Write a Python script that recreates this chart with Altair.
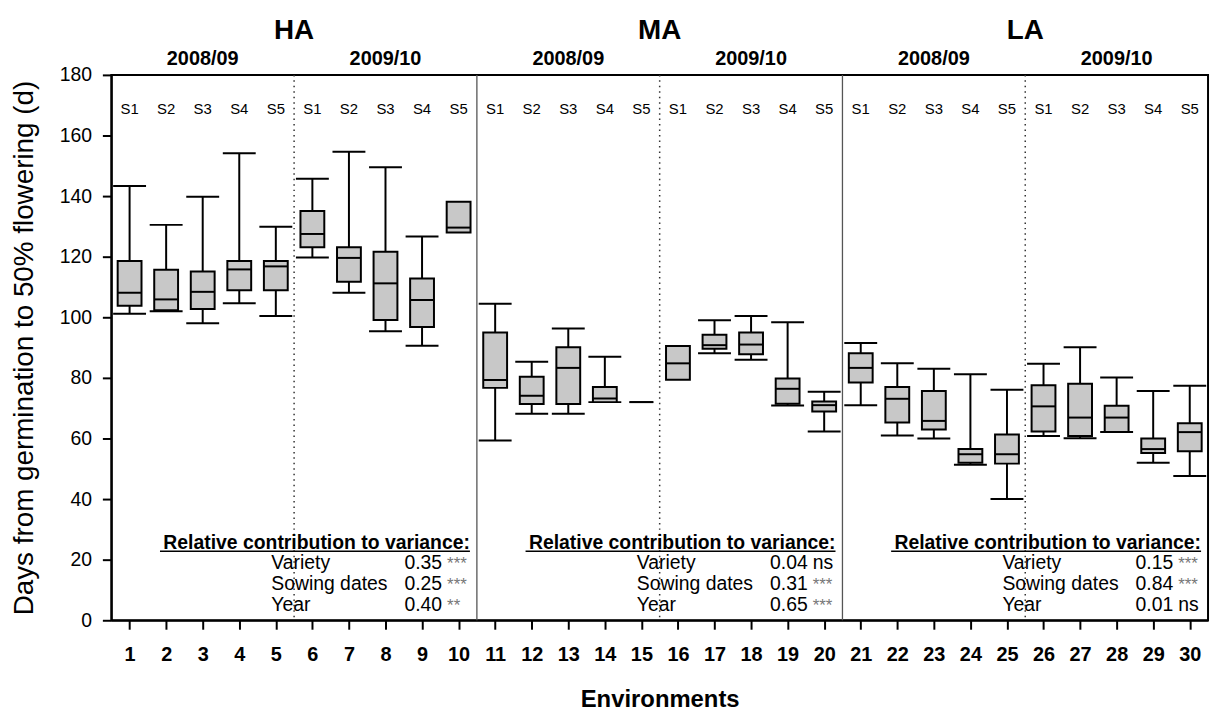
import altair as alt
import pandas as pd

FONT = "Liberation Sans"

# ---------------- data ----------------
envs = list(range(1, 31))
whisker_lo = [101.2, 102.0, 98.0, 104.6, 100.4, 119.7, 108.1, 95.4, 90.6, None,
              59.3, 68.2, 68.2, 72.0, None, None, 88.1, 86.0, 70.9, 62.3,
              71.0, 61.0, 60.0, 51.3, 40.0, 60.8, 60.1, 62.1, 52.0, 47.6]
q1 = [103.8, 102.3, 102.7, 108.9, 108.9, 123.1, 111.7, 99.1, 96.8, 128.0,
      76.7, 71.4, 71.4, 72.0, 72.0, 79.4, 89.6, 87.8, 71.5, 68.9,
      78.5, 65.3, 63.0, 52.0, 51.7, 62.3, 60.8, 62.1, 55.2, 55.8]
median = [108.1, 105.9, 108.4, 115.8, 116.8, 127.5, 119.6, 111.2, 105.7, 129.6,
          79.3, 74.1, 83.3, 73.2, 72.0, 84.8, 90.8, 91.0, 76.4, 71.0,
          83.3, 73.1, 65.8, 54.8, 54.8, 70.6, 66.9, 66.9, 56.5, 62.1]
q3 = [118.6, 115.7, 115.1, 118.6, 118.6, 135.1, 123.1, 121.6, 112.8, 138.1,
      95.0, 80.4, 90.1, 77.0, 72.0, 90.5, 94.2, 95.0, 79.8, 72.2,
      88.1, 77.0, 75.7, 56.5, 61.3, 77.6, 78.1, 70.8, 60.0, 65.0]
whisker_hi = [143.3, 130.5, 139.8, 154.1, 129.9, 145.7, 154.6, 149.5, 126.7, None,
              104.5, 85.3, 96.3, 87.0, None, None, 99.0, 100.4, 98.4, 75.4,
              91.5, 84.8, 83.0, 81.2, 76.1, 84.7, 90.1, 80.1, 75.7, 77.4]

sowing_labels = ["S1", "S2", "S3", "S4", "S5"]
regions = ["HA", "MA", "LA"]
seasons = ["2008/09", "2009/10"]
factors = ["Variety", "Sowing dates", "Year"]
contrib = {"HA": [0.35, 0.25, 0.40], "MA": [0.04, 0.31, 0.65], "LA": [0.15, 0.84, 0.01]}
signif = {"HA": ["***", "***", "**"], "MA": ["ns", "***", "***"], "LA": ["***", "***", "ns"]}
heading = "Relative contribution to variance:"

# layout (in axis units)
panel_lo = [0.5, 10.5, 20.5]
panel_hi = [10.5, 20.5, 30.5]
season_split = [5.5, 15.5, 25.5]
heading_y = 23.6
row_y = [17.05, 9.84, 3.1]

# ---------------- tables ----------------
box_df = pd.DataFrame({"env": envs, "lo": whisker_lo, "q1": q1, "med": median,
                       "q3": q3, "hi": whisker_hi})
s_df = pd.DataFrame({"env": envs, "lab": sowing_labels * 6})
region_df = pd.DataFrame({"region": regions,
                          "xc": [(a + b) / 2 for a, b in zip(panel_lo, panel_hi)]})
season_df = pd.DataFrame({"season": seasons * 3,
                          "xc": [(a + b) / 2 for a, b in zip(
                              [p for p in panel_lo for _ in range(2)][::1],
                              [0] * 6)]})
# centres of each half-panel
half_centres = []
for lo_, hi_ in zip(panel_lo, panel_hi):
    mid = (lo_ + hi_) / 2
    half_centres += [(lo_ + mid) / 2, (mid + hi_) / 2]
season_df["xc"] = half_centres
sep_df = pd.DataFrame({"x": panel_hi[:-1]})
dot_df = pd.DataFrame({"x": season_split})
head_df = pd.DataFrame({"plo": panel_lo, "phi": panel_hi, "txt": [heading] * 3,
                        "y": [heading_y] * 3})
rows = []
for r, plo, phi in zip(regions, panel_lo, panel_hi):
    for i, f in enumerate(factors):
        rows.append({"plo": plo, "phi": phi, "factor": f, "val": contrib[r][i],
                     "sig": signif[r][i], "y": row_y[i],
                     "star": signif[r][i] != "ns"})
row_df = pd.DataFrame(rows)

# ---------------- scales / axes ----------------
TITLE_X = "Environments"
TITLE_Y = "Days from germination to 50% flowering (d)"
xscale = alt.Scale(domain=[0.5, 30.5], nice=False, zero=False)
yscale = alt.Scale(domain=[0, 180], nice=False, zero=True)
xaxis = alt.Axis(values=envs, format="d", grid=False, labelFont=FONT,
                 labelFontSize=20, labelFontWeight="bold", labelColor="black",
                 labelBaseline="alphabetic", labelPadding=31, labelFlush=False,
                 labelOverlap=False, tickSize=9, tickWidth=2, tickColor="black",
                 domainColor="black", domainWidth=2, titleFont=FONT,
                 titleFontSize=24, titleFontWeight="bold", titleColor="black",
                 titleX=552, titleY=87, titleAlign="center",
                 titleBaseline="alphabetic")
yaxis = alt.Axis(values=list(range(0, 181, 20)), grid=False, labelFont=FONT,
                 labelFontSize=19.5, labelColor="black", labelPadding=11,
                 tickSize=9, tickWidth=2, tickColor="black", domainColor="black",
                 domainWidth=2, titleFont=FONT, titleFontSize=28,
                 titleFontWeight="normal", titleColor="black", titleX=-79,
                 titleY=274.5, titleAngle=270, titleAlign="center",
                 titleBaseline="alphabetic")


def xq(f):
    return alt.X(f, type="quantitative", scale=xscale, axis=xaxis, title=TITLE_X)


def yq(f):
    return alt.Y(f, type="quantitative", scale=yscale, axis=yaxis, title=TITLE_Y)


BOX_HALF = 0.326
CAP_HALF = 0.45

base = alt.Chart(box_df)
has_lo = "isValid(datum.lo)"
has_hi = "isValid(datum.hi)"

whisk_lo = base.transform_filter(has_lo).mark_rule(color="black", strokeWidth=2).encode(
    x=xq("env"), y=yq("lo"), y2="q1:Q")
whisk_hi = base.transform_filter(has_hi).mark_rule(color="black", strokeWidth=2).encode(
    x=xq("env"), y=yq("q3"), y2="hi:Q")
cap_lo = base.transform_filter(has_lo).transform_calculate(
    cl=f"datum.env-{CAP_HALF}", cr=f"datum.env+{CAP_HALF}").mark_rule(
    color="black", strokeWidth=2).encode(x=xq("cl"), x2="cr:Q", y=yq("lo"))
cap_hi = base.transform_filter(has_hi).transform_calculate(
    cl=f"datum.env-{CAP_HALF}", cr=f"datum.env+{CAP_HALF}").mark_rule(
    color="black", strokeWidth=2).encode(x=xq("cl"), x2="cr:Q", y=yq("hi"))
boxes = base.transform_calculate(
    bl=f"datum.env-{BOX_HALF}", br=f"datum.env+{BOX_HALF}").mark_rect(
    fill="#c8c8c8", stroke="black", strokeWidth=2).encode(
    x=xq("bl"), x2="br:Q", y=yq("q1"), y2="q3:Q")
meds = base.transform_calculate(
    bl=f"datum.env-{BOX_HALF}", br=f"datum.env+{BOX_HALF}").mark_rule(
    color="black", strokeWidth=2).encode(x=xq("bl"), x2="br:Q", y=yq("med"))

seps = alt.Chart(sep_df).mark_rule(color="#555555", strokeWidth=1.3).encode(
    x=xq("x"), y=alt.value(0), y2=alt.value(549))
dots = alt.Chart(dot_df).mark_rule(color="#333333", strokeWidth=1.5,
                                   strokeDash=[1.5, 4]).encode(
    x=xq("x"), y=alt.value(0), y2=alt.value(549))

s_text = alt.Chart(s_df).mark_text(font=FONT, fontSize=15, color="black",
                                   baseline="alphabetic", align="center").encode(
    x=xq("env"), y=alt.value(39), text="lab:N")
region_text = alt.Chart(region_df).mark_text(font=FONT, fontSize=28, fontWeight="bold",
                                             color="black", baseline="alphabetic",
                                             align="center").encode(
    x=xq("xc"), y=alt.value(-36), text="region:N")
season_text = alt.Chart(season_df).mark_text(font=FONT, fontSize=20, fontWeight="bold",
                                             color="black", baseline="alphabetic",
                                             align="center").encode(
    x=xq("xc"), y=alt.value(-10), text="season:N")

head_text = alt.Chart(head_df).mark_text(font=FONT, fontSize=19.5, fontWeight="bold",
                                         color="black", baseline="alphabetic",
                                         align="right", dx=-7).encode(
    x=xq("phi"), y=yq("y"), text="txt:N")
head_line = alt.Chart(head_df).mark_rule(color="black", strokeWidth=1.5,
                                         xOffset=49, x2Offset=-7, yOffset=2.5,
                                         y2Offset=2.5).encode(
    x=xq("plo"), x2="phi:Q", y=yq("y"))
factor_text = alt.Chart(row_df).mark_text(font=FONT, fontSize=19.5, color="black",
                                          baseline="alphabetic", align="left",
                                          dx=161).encode(
    x=xq("plo"), y=yq("y"), text="factor:N")
val_text = alt.Chart(row_df).mark_text(font=FONT, fontSize=19.5, color="black",
                                       baseline="alphabetic", align="right",
                                       dx=-35).encode(
    x=xq("phi"), y=yq("y"), text=alt.Text("val:Q", format=".2f"))
star_text = alt.Chart(row_df).transform_filter("datum.star").mark_text(
    font=FONT, fontSize=17, color="#777777", baseline="alphabetic", align="left",
    dx=-30).encode(x=xq("phi"), y=yq("y"), text="sig:N")
ns_text = alt.Chart(row_df).transform_filter("!datum.star").mark_text(
    font=FONT, fontSize=19.5, color="black", baseline="alphabetic", align="left",
    dx=-30).encode(x=xq("phi"), y=yq("y"), text="sig:N")

chart = alt.layer(
    seps, dots, whisk_lo, whisk_hi, cap_lo, cap_hi, boxes, meds,
    s_text, region_text, season_text, head_text, head_line,
    factor_text, val_text, star_text, ns_text
).properties(
    width=1104, height=549,
    autosize=alt.AutoSizeParams(type="none"),
    padding={"left": 104, "top": 65, "right": 4, "bottom": 90},
    background="white",
).configure(font=FONT).configure_view(stroke="black", strokeWidth=2)

chart.save("out.html", embed_options={"renderer": "svg", "actions": False})
